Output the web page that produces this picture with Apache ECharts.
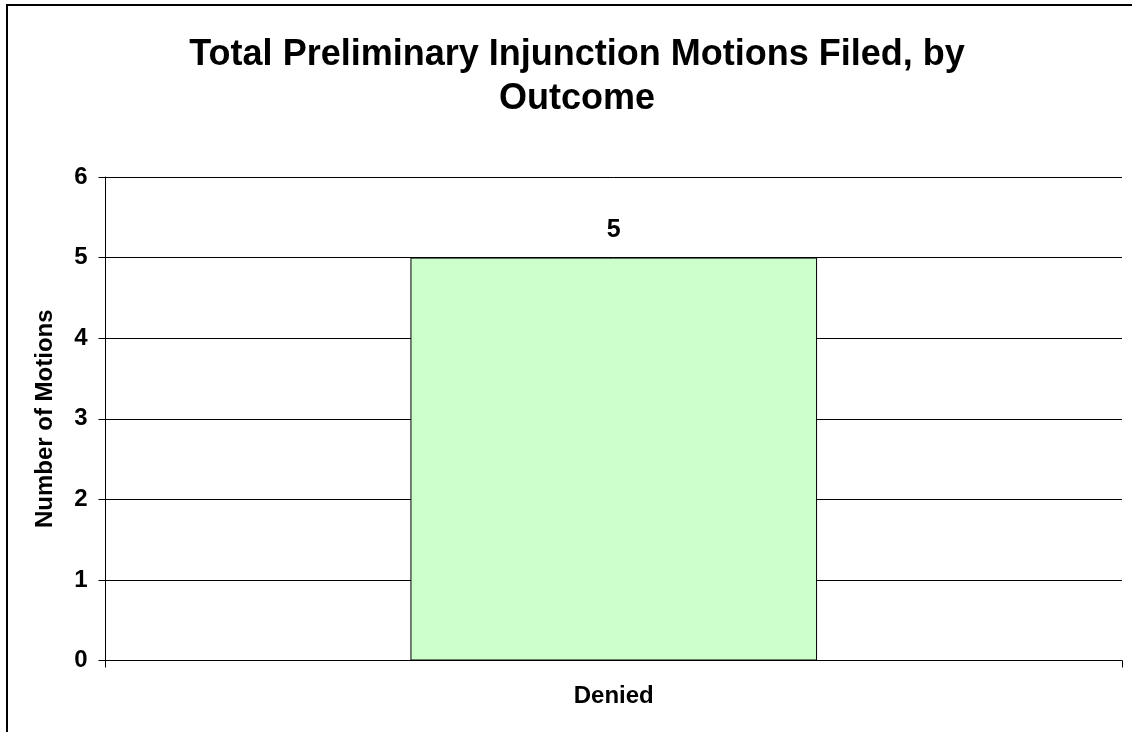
<!DOCTYPE html>
<html>
<head>
<meta charset="utf-8">
<script src="https://cdn.jsdelivr.net/npm/echarts@6/dist/echarts.min.js"></script>
<style>
html,body{margin:0;padding:0;background:#fff;}
#chart{width:1132px;height:732px;}
</style>
</head>
<body>
<div id="chart"></div>
<script>
const titleText = 'Total Preliminary Injunction Motions Filed, by\nOutcome';
const categories = ['Denied'];
const motions = [5];
const yAxisName = 'Number of Motions';
const yMin = 0, yMax = 6, yStep = 1;

const FONT = '"Liberation Sans", Arial, sans-serif';
const chart = echarts.init(document.getElementById('chart'), null, {renderer: 'canvas'});
chart.setOption({
  animation: false,
  backgroundColor: '#fff',
  title: {
    text: titleText,
    left: 572,
    top: 28,
    textAlign: 'center',
    textStyle: {fontFamily: FONT, fontSize: 36, fontWeight: 'bold', color: '#000', lineHeight: 44}
  },
  graphic: [{
    type: 'rect',
    shape: {x: 7, y: 5, width: 2000, height: 2000},
    style: {fill: 'none', stroke: '#000', lineWidth: 2},
    silent: true
  }],
  grid: {left: 105.5, right: 10, top: 177, bottom: 71.5, containLabel: false},
  xAxis: {
    type: 'category',
    data: categories,
    boundaryGap: true,
    axisLine: {show: true, lineStyle: {color: '#000', width: 1}},
    axisTick: {show: true, alignWithLabel: false, length: 7, lineStyle: {color: '#000'}},
    axisLabel: {margin: 24, fontFamily: FONT, fontSize: 24, fontWeight: 'bold', color: '#000'},
    splitLine: {show: false}
  },
  yAxis: {
    type: 'value',
    min: yMin, max: yMax, interval: yStep,
    name: yAxisName,
    nameLocation: 'middle',
    nameGap: 48,
    nameTextStyle: {fontFamily: FONT, fontSize: 24, fontWeight: 'bold', color: '#000'},
    axisLine: {show: true, lineStyle: {color: '#000', width: 1}},
    axisTick: {show: true, length: 7, lineStyle: {color: '#000'}},
    axisLabel: {margin: 18, fontFamily: FONT, fontSize: 24, fontWeight: 'bold', color: '#000'},
    splitLine: {show: true, lineStyle: {color: '#000', width: 1}}
  },
  series: [{
    type: 'bar',
    data: motions,
    barWidth: '40%',
    itemStyle: {color: '#CCFFCC', borderColor: '#000', borderWidth: 1},
    label: {show: true, position: 'top', distance: 15, fontFamily: FONT, fontSize: 25, fontWeight: 'bold', color: '#000'}
  }]
});
</script>
</body>
</html>
